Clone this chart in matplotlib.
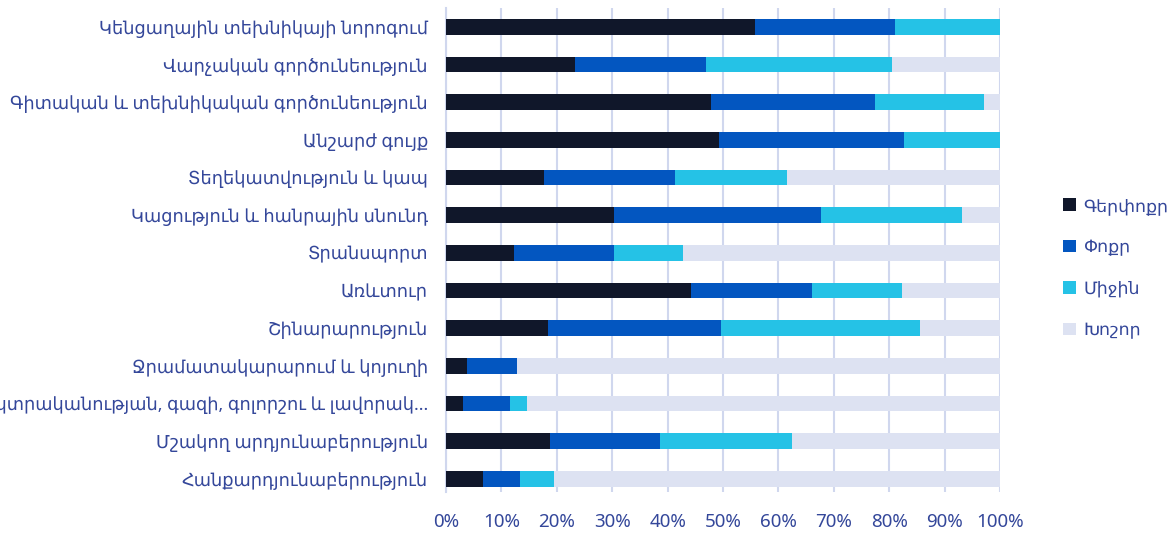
import matplotlib
matplotlib.use('Agg')
import matplotlib.pyplot as plt
import numpy as np
from matplotlib.ticker import PercentFormatter

# categories, top to bottom
categories = [
    "Կենցաղային տեխնիկայի նորոգում",
    "Վարչական գործունեություն",
    "Գիտական և տեխնիկական գործունեություն",
    "Անշարժ գույք",
    "Տեղեկատվություն և կապ",
    "Կացություն և հանրային սնունդ",
    "Տրանսպորտ",
    "Առևտուր",
    "Շինարարություն",
    "Ջրամատակարարում և կոյուղի",
    "Էլեկտրականության, գազի, գոլորշու և լավորակ...",
    "Մշակող արդյունաբերություն",
    "Հանքարդյունաբերություն",
]

series_names = ["Գերփոքր", "Փոքր", "Միջին", "Խոշոր"]

# shares in percent, same order as categories
gerpokr = [55.7, 23.3, 47.8, 49.2, 17.7, 30.4, 12.3, 44.3, 18.4, 3.7, 3.0, 18.7, 6.6]
pokr    = [25.3, 23.6, 29.7, 33.5, 23.7, 37.2, 18.1, 21.8, 31.3, 9.1, 8.5, 20.0, 6.8]
mijin   = [19.0, 33.6, 19.6, 17.3, 20.1, 25.6, 12.3, 16.2, 35.8, 0.0, 3.2, 23.7, 6.1]
khoshor = [0.0, 19.5, 2.9, 0.0, 38.5, 6.8, 57.3, 17.7, 14.5, 87.2, 85.3, 37.6, 80.5]

colors = ['#10172A', '#0356C0', '#25C2E6', '#DDE2F2']
text_color = '#34479A'
grid_color = '#D0D7EE'

plt.rcParams['font.family'] = ['Noto Sans', 'DejaVu Sans']

fig = plt.figure(figsize=(11.75, 5.37), dpi=100)
ax = fig.add_axes([0.3796, 0.084, 0.4715, 0.901])

y = np.arange(len(categories))
left = np.zeros(len(categories))
for name, vals, col in zip(series_names, [gerpokr, pokr, mijin, khoshor], colors):
    vals = np.array(vals)
    ax.barh(y, vals, left=left, height=0.42, color=col, label=name,
            edgecolor='none', zorder=3)
    left += vals

ax.set_xlim(0, 100)
ax.set_ylim(12.35, -0.5)
ax.set_xticks(np.arange(0, 101, 10))
ax.xaxis.set_major_formatter(PercentFormatter(decimals=0))
ax.set_yticks(y)
ax.set_yticklabels(categories)

ax.grid(axis='x', color=grid_color, linewidth=1.5, zorder=0)
for s in ['top', 'right', 'bottom']:
    ax.spines[s].set_visible(False)
ax.spines['left'].set_color(grid_color)
ax.spines['left'].set_linewidth(1.5)

ax.tick_params(axis='both', length=0, colors=text_color)
ax.tick_params(axis='y', pad=13, labelsize=12.8)
ax.tick_params(axis='x', pad=15, labelsize=13.5)

leg = ax.legend(loc='center left', bbox_to_anchor=(1.085, 0.463), frameon=False,
                handlelength=0.75, handleheight=0.75, handletextpad=0.45,
                labelspacing=1.35, fontsize=12.5, labelcolor=text_color)

fig.savefig('out.png', dpi=100)
